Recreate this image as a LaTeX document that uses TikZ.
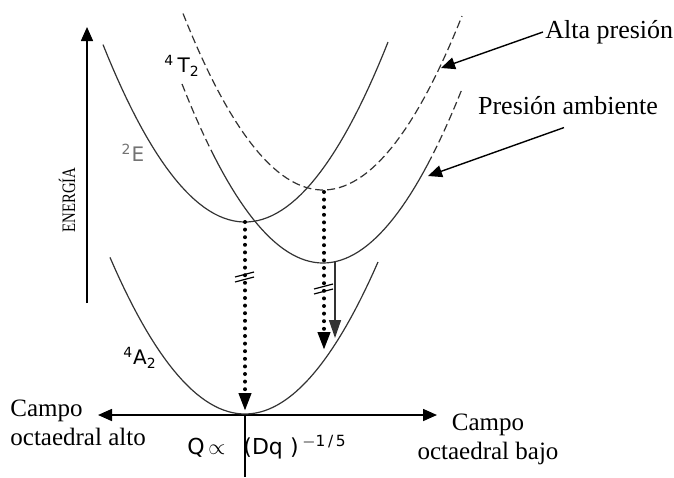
\documentclass[tikz,border=0pt]{standalone}
\usepackage{fontspec}
\setmainfont{Liberation Serif}
\setsansfont{DejaVu Sans}
\usepackage{amsmath}
\usetikzlibrary{arrows.meta}

\begin{document}
\begin{tikzpicture}[x=0.5pt,y=-0.5pt,
    curve/.style={line width=0.6pt, black!80},
    dcurve/.style={curve, dash pattern=on 4pt off 2pt},
    axis/.style={line width=0.8pt},
    tip/.style={-{Triangle[length=7pt,width=6pt]}},
    dotarrow/.style={line width=2pt, line cap=round, dash pattern=on 0pt off 3.8pt, -{Triangle[length=9pt,width=6pt]}},
    lbl/.style={font=\sffamily\fontsize{10}{11}\selectfont},
    txt/.style={font=\fontsize{13}{15}\selectfont, inner sep=1pt}]
    \useasboundingbox (0,0) rectangle (674,477);

    % axes
    \coordinate (Eb) at (87,303);
    \coordinate (Et) at (87,27);
    \draw[axis, tip] (Eb) -- (Et);
    \node[rotate=90, font=\fontsize{9.5}{10}\selectfont] (en) at (67,200) {\scalebox{0.78}[1]{ENERGÍA}};
    \coordinate (O) at (245,415);
    \coordinate (L) at (98,415);
    \coordinate (R) at (437,415);
    \coordinate (Ob) at (245,477);
    \draw[axis, {Triangle[length=7pt,width=6pt]}-{Triangle[length=7pt,width=6pt]}] (L) -- (R);
    \draw[axis] (O) -- (Ob);

    % parabolas
    \draw[curve] plot[domain=110:378, samples=60] (\x,{414-(0.0927*(\x-245))*(0.0927*(\x-245))});
    \draw[curve] plot[domain=103:388, samples=60] (\x,{222-(0.0938*(\x-245))*(0.0938*(\x-245))});
    \draw[dcurve] plot[domain=182:214, samples=10] (\x,{263-(0.0949*(\x-323))*(0.0949*(\x-323))});
    \draw[curve] plot[domain=214:428, samples=50] (\x,{263-(0.0949*(\x-323))*(0.0949*(\x-323))});
    \draw[dcurve] plot[domain=428:462, samples=10] (\x,{263-(0.0949*(\x-323))*(0.0949*(\x-323))});
    \draw[dcurve] plot[domain=183:462, samples=60] (\x,{190-(0.0949*(\x-323))*(0.0949*(\x-323))});

    % labels of the terms
    \node[lbl] (T2) at (182,66) {\textsuperscript{4}\,T\textsubscript{2}};
    \node[lbl, black!55] (E2) at (133,153) {\textsuperscript{2}E};
    \node[lbl] (A2) at (140,358) {\textsuperscript{4}A\textsubscript{2}};
    \node[lbl, font=\sffamily\fontsize{11}{12}\selectfont, anchor=west, inner sep=0pt] (Q) at (187,447)
        {Q\,$\propto$\hspace{9pt}(Dq\,\,)\,\textsuperscript{$-$1\,/\,5}};

    % transitions
    \coordinate (Emin) at (245,222);
    \coordinate (Etip) at (245,411);
    \draw[dotarrow] (Emin) -- (Etip);
    \coordinate (Hmin) at (324,192);
    \coordinate (Htip) at (324,350);
    \draw[dotarrow] (Hmin) -- (Htip);
    \coordinate (Bmin) at (335,262);
    \coordinate (Btip) at (335,338);
    \draw[curve, line width=0.7pt, -{Triangle[length=9pt,width=6pt]}] (Bmin) -- (Btip);
    \foreach \bx/\by in {245/277, 324/289} {
        \draw[line width=0.6pt] (\bx-10,\by) -- (\bx+9,\by-5);
        \draw[line width=0.6pt] (\bx-10,\by+5) -- (\bx+9,\by);
    }

    % pressure labels
    \node[txt, anchor=west] (alta) at (543,32) {Alta presión};
    \node[txt] (amb) at (568,106) {Presión ambiente};
    \coordinate (hp) at (441,68);
    \coordinate (ap) at (428,176);
    \draw[line width=0.7pt, tip] (alta.west) -- (hp);
    \draw[line width=0.7pt, tip] ([xshift=-2pt,yshift=-5pt]amb.south) -- (ap);

    % field labels
    \node[anchor=north west, align=left, font=\fontsize{12.5}{14.5}\selectfont, inner sep=0pt] (hi) at (10,400) {Campo\\octaedral alto};
    \node[anchor=north, align=center, font=\fontsize{12.5}{14.5}\selectfont, inner sep=0pt] (lo) at (488,414) {Campo\\octaedral bajo};
\end{tikzpicture}
\end{document}
